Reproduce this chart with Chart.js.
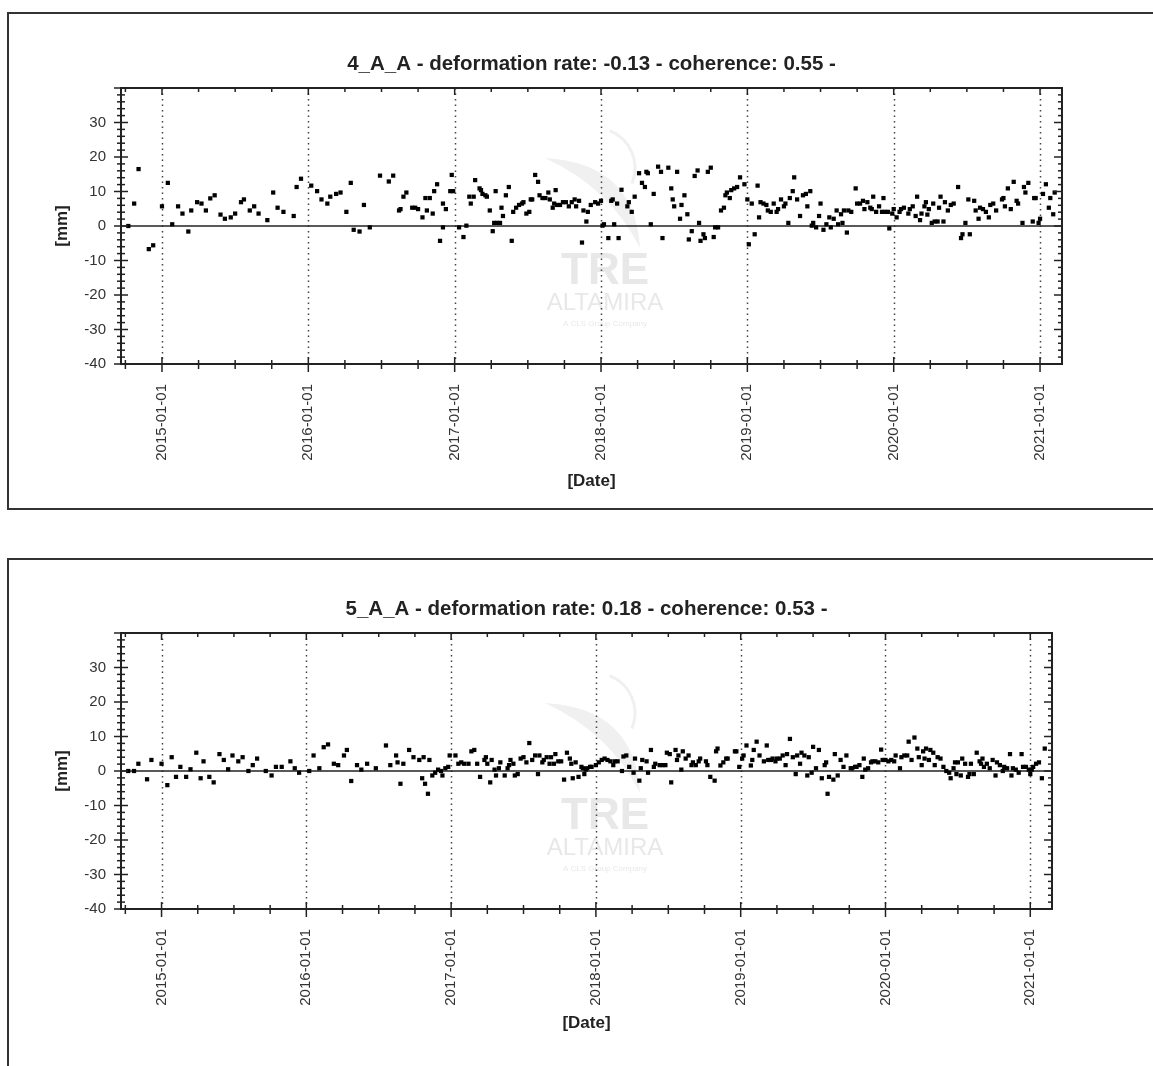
<!DOCTYPE html>
<html>
<head>
    <title>Deformation time series</title>
    <meta charset="utf-8">
    <script src="https://cdn.jsdelivr.net/npm/chart.js"></script>
    <style>
        body {
            margin: 0;
            background: #fff;
            overflow: hidden;
            font-family: "Liberation Sans", Arial, sans-serif;
        }
        .box {
            position: absolute;
            left: 7px;
            width: 1200px;
            border: 2px solid #333;
            border-right: none;
        }
        #box4 { top: 12px; height: 494px; }
        #box5 { top: 558px; height: 520px; border-bottom: none; }
        canvas { display: block; }
    </style>
</head>
<body>
<div class="box" id="box4"><canvas id="chart4" width="1144" height="494"></canvas></div>
<div class="box" id="box5"><canvas id="chart5" width="1144" height="506"></canvas></div>
<script>
    // axis ranges and tick labels
    const xMin = 2014.72;
    const xMax = 2021.15;
    const yearTicks = [2015, 2016, 2017, 2018, 2019, 2020, 2021];
    const mmTicks = [-40, -30, -20, -10, 0, 10, 20, 30];

    // point 4_A_A : acquisition date (decimal year) and displacement in mm
    const title4 = "4_A_A - deformation rate: -0.13 - coherence: 0.55 -";
    const dates4 = [
        2014.77, 2014.81, 2014.84, 2014.91, 2014.94, 2015.00, 2015.04, 2015.07, 2015.11, 2015.14,
        2015.18, 2015.20, 2015.24, 2015.27, 2015.30, 2015.33, 2015.36, 2015.40, 2015.43, 2015.47,
        2015.50, 2015.54, 2015.56, 2015.60, 2015.63, 2015.66, 2015.72, 2015.76, 2015.79, 2015.83,
        2015.90, 2015.92, 2015.95, 2016.02, 2016.06, 2016.09, 2016.13, 2016.15, 2016.19, 2016.22,
        2016.26, 2016.29, 2016.31, 2016.35, 2016.38, 2016.42, 2016.49, 2016.55, 2016.58, 2016.62,
        2016.63, 2016.65, 2016.67, 2016.71, 2016.73, 2016.75, 2016.78, 2016.80, 2016.81, 2016.83,
        2016.85, 2016.86, 2016.88, 2016.90, 2016.92, 2016.92, 2016.94, 2016.97, 2016.98, 2016.99,
        2017.03, 2017.06, 2017.08, 2017.10, 2017.11, 2017.13, 2017.14, 2017.17, 2017.18, 2017.19,
        2017.21, 2017.22, 2017.24, 2017.26, 2017.27, 2017.28, 2017.29, 2017.31, 2017.32, 2017.33,
        2017.35, 2017.37, 2017.39, 2017.40, 2017.42, 2017.44, 2017.46, 2017.47, 2017.49, 2017.51,
        2017.52, 2017.53, 2017.55, 2017.57, 2017.58, 2017.60, 2017.62, 2017.64, 2017.65, 2017.67,
        2017.68, 2017.69, 2017.70, 2017.72, 2017.74, 2017.76, 2017.78, 2017.80, 2017.82, 2017.83,
        2017.85, 2017.87, 2017.88, 2017.90, 2017.91, 2017.93, 2017.96, 2017.98, 2018.00, 2018.01,
        2018.02, 2018.05, 2018.07, 2018.08, 2018.09, 2018.11, 2018.12, 2018.14, 2018.18, 2018.19,
        2018.21, 2018.23, 2018.26, 2018.28, 2018.30, 2018.31, 2018.32, 2018.34, 2018.36, 2018.39,
        2018.41, 2018.42, 2018.46, 2018.48, 2018.49, 2018.50, 2018.52, 2018.54, 2018.55, 2018.57,
        2018.59, 2018.60, 2018.62, 2018.64, 2018.66, 2018.67, 2018.68, 2018.70, 2018.71, 2018.73,
        2018.75, 2018.77, 2018.78, 2018.80, 2018.82, 2018.84, 2018.85, 2018.86, 2018.88, 2018.89,
        2018.91, 2018.93, 2018.95, 2018.98, 2019.00, 2019.01, 2019.03, 2019.05, 2019.07, 2019.08,
        2019.09, 2019.11, 2019.13, 2019.14, 2019.16, 2019.18, 2019.20, 2019.21, 2019.23, 2019.25,
        2019.26, 2019.28, 2019.29, 2019.31, 2019.32, 2019.34, 2019.36, 2019.38, 2019.40, 2019.41,
        2019.43, 2019.44, 2019.45, 2019.47, 2019.49, 2019.50, 2019.52, 2019.54, 2019.56, 2019.57,
        2019.59, 2019.61, 2019.62, 2019.64, 2019.65, 2019.66, 2019.68, 2019.69, 2019.71, 2019.74,
        2019.75, 2019.77, 2019.79, 2019.80, 2019.82, 2019.84, 2019.85, 2019.86, 2019.88, 2019.90,
        2019.92, 2019.93, 2019.94, 2019.96, 2019.97, 2019.99, 2020.00, 2020.02, 2020.04, 2020.05,
        2020.07, 2020.10, 2020.11, 2020.13, 2020.15, 2020.16, 2020.18, 2020.19, 2020.21, 2020.22,
        2020.23, 2020.24, 2020.26, 2020.27, 2020.28, 2020.30, 2020.31, 2020.32, 2020.34, 2020.35,
        2020.37, 2020.39, 2020.41, 2020.44, 2020.46, 2020.47, 2020.49, 2020.51, 2020.52, 2020.55,
        2020.56, 2020.58, 2020.59, 2020.61, 2020.63, 2020.65, 2020.66, 2020.68, 2020.70, 2020.74,
        2020.75, 2020.76, 2020.78, 2020.80, 2020.82, 2020.84, 2020.85, 2020.88, 2020.89, 2020.90,
        2020.92, 2020.95, 2020.96, 2020.97, 2020.99, 2021.00, 2021.02, 2021.04, 2021.06, 2021.07,
        2021.09, 2021.10
    ];
    const values4 = [
        0, 6.5, 16.5, -6.7, -5.6, 5.7, 12.5, 0.5, 5.7, 3.6,
        -1.6, 4.5, 6.9, 6.5, 4.5, 8.0, 8.9, 3.3, 2.1, 2.5,
        3.6, 6.9, 7.7, 4.5, 5.7, 3.6, 1.7, 9.7, 5.3, 4.1,
        2.9, 11.3, 13.7, 11.7, 10.1, 7.7, 6.5, 8.5, 9.3, 9.7,
        4.1, 12.5, -1.1, -1.6, 6.1, -0.4, 14.6, 12.9, 14.6, 4.5,
        4.9, 8.5, 9.7, 5.3, 5.3, 4.9, 2.5, 8.1, 4.5, 8.1,
        3.6, 10.1, 12.1, -4.3, -0.4, 6.5, 4.9, 10.1, 14.8, 10.1,
        -0.4, -3.2, 0.1, 8.5, 6.5, 8.5, 13.3, 10.9, 10.4, 9.3,
        8.9, 8.5, 4.5, -1.5, 0.9, 10.1, 0.9, 0.9, 5.3, 2.9,
        8.9, 11.3, -4.3, 4.1, 5.3, 6.1, 6.5, 6.9, 3.6, 4.1,
        7.7, 7.7, 14.8, 12.8, 8.9, 8.1, 8.1, 9.7, 7.7, 5.3,
        6.5, 10.4, 6.1, 6.1, 6.9, 6.9, 5.7, 6.9, 7.7, 5.7,
        7.3, -4.8, 4.5, 1.3, 4.1, 6.1, 6.9, 6.5, 7.3, 0.1,
        0.5, -3.5, 7.3, 7.7, 0.5, 6.5, -3.5, 10.5, 5.7, 6.9,
        4.1, 8.5, 15.3, 12.5, 11.3, 15.7, 15.3, 0.5, 9.3, 17.2,
        15.7, -3.5, 16.9, 10.9, 7.7, 5.7, 15.7, 2.1, 6.1, 8.9,
        3.4, -3.9, -1.5, 14.5, 16.1, 0.9, -4.3, -2.4, -3.5, 15.7,
        16.9, -3.2, -0.4, -0.4, 4.5, 5.3, 8.9, 9.7, 8.1, 10.4,
        10.9, 11.3, 14.1, 12.1, 7.7, -5.3, 6.5, -2.4, 11.7, 2.5,
        6.9, 6.5, 6.1, 4.5, 4.1, 6.5, 4.1, 4.9, 7.7, 5.7,
        6.5, 0.9, 8.1, 10.1, 14.1, 7.7, 2.9, 8.9, 9.3, 5.7,
        10.1, 0.1, 0.9, -0.4, 2.9, 6.5, -1.1, 0.5, 2.5, -0.4,
        2.1, 4.5, 0.5, 3.4, 0.9, 4.5, -1.9, 4.5, 4.1, 10.9,
        6.5, 6.5, 7.3, 4.9, 6.9, 5.3, 4.9, 8.5, 4.1, 5.7,
        4.1, 8.1, 4.1, 4.1, -0.7, 3.6, 4.9, 2.5, 4.1, 4.9,
        5.3, 3.6, 4.9, 5.7, 2.9, 8.5, 1.7, 3.6, 5.7, 6.9,
        3.3, 4.9, 0.9, 6.5, 1.3, 1.3, 5.3, 8.5, 1.3, 6.9,
        4.5, 6.1, 6.5, 11.3, -3.5, -2.4, 0.9, 7.7, -2.4, 7.3,
        4.5, 2.1, 5.3, 4.9, 4.1, 2.5, 6.1, 6.5, 4.5, 7.7,
        8.1, 5.7, 10.9, 4.9, 12.8, 7.3, 6.5, 0.9, 11.3, 9.7,
        12.5, 1.3, 8.1, 8.1, 0.9, 2.1, 9.3, 12.1, 5.3, 8.1,
        3.4, 9.7
    ];

    // point 5_A_A
    const title5 = "5_A_A - deformation rate: 0.18 - coherence: 0.53 -";
    const dates5 = [
        2014.77, 2014.81, 2014.84, 2014.90, 2014.93, 2015.00, 2015.04, 2015.07, 2015.10, 2015.13,
        2015.17, 2015.20, 2015.24, 2015.27, 2015.29, 2015.33, 2015.36, 2015.40, 2015.43, 2015.46,
        2015.49, 2015.53, 2015.56, 2015.60, 2015.63, 2015.66, 2015.72, 2015.76, 2015.79, 2015.83,
        2015.89, 2015.92, 2015.95, 2016.02, 2016.05, 2016.09, 2016.12, 2016.15, 2016.19, 2016.22,
        2016.26, 2016.28, 2016.31, 2016.35, 2016.38, 2016.42, 2016.48, 2016.55, 2016.58, 2016.62,
        2016.63, 2016.65, 2016.67, 2016.71, 2016.74, 2016.78, 2016.80, 2016.81, 2016.82, 2016.84,
        2016.85, 2016.87, 2016.89, 2016.91, 2016.93, 2016.94, 2016.96, 2016.98, 2016.99, 2017.03,
        2017.05, 2017.07, 2017.09, 2017.12, 2017.14, 2017.16, 2017.18, 2017.20, 2017.23, 2017.24,
        2017.25, 2017.27, 2017.28, 2017.30, 2017.31, 2017.33, 2017.34, 2017.37, 2017.39, 2017.40,
        2017.41, 2017.43, 2017.44, 2017.46, 2017.48, 2017.50, 2017.52, 2017.54, 2017.56, 2017.58,
        2017.60, 2017.61, 2017.63, 2017.64, 2017.66, 2017.68, 2017.69, 2017.71, 2017.72, 2017.74,
        2017.76, 2017.78, 2017.80, 2017.82, 2017.83, 2017.84, 2017.86, 2017.88, 2017.90, 2017.91,
        2017.92, 2017.93, 2017.94, 2017.96, 2017.97, 2018.00, 2018.02, 2018.04, 2018.06, 2018.08,
        2018.10, 2018.12, 2018.13, 2018.15, 2018.18, 2018.19, 2018.21, 2018.23, 2018.26, 2018.27,
        2018.30, 2018.31, 2018.32, 2018.35, 2018.36, 2018.38, 2018.40, 2018.41, 2018.44, 2018.46,
        2018.48, 2018.49, 2018.51, 2018.52, 2018.55, 2018.56, 2018.57, 2018.59, 2018.60, 2018.62,
        2018.64, 2018.66, 2018.67, 2018.69, 2018.71, 2018.72, 2018.76, 2018.77, 2018.79, 2018.82,
        2018.83, 2018.84, 2018.86, 2018.88, 2018.90, 2018.91, 2018.96, 2018.97, 2018.99, 2019.01,
        2019.02, 2019.04, 2019.07, 2019.08, 2019.09, 2019.11, 2019.13, 2019.16, 2019.18, 2019.19,
        2019.21, 2019.22, 2019.24, 2019.25, 2019.27, 2019.29, 2019.31, 2019.32, 2019.34, 2019.36,
        2019.38, 2019.39, 2019.41, 2019.42, 2019.44, 2019.46, 2019.47, 2019.49, 2019.50, 2019.52,
        2019.54, 2019.56, 2019.58, 2019.59, 2019.60, 2019.61, 2019.64, 2019.65, 2019.67, 2019.69,
        2019.71, 2019.73, 2019.76, 2019.77, 2019.79, 2019.80, 2019.82, 2019.84, 2019.85, 2019.86,
        2019.88, 2019.90, 2019.91, 2019.93, 2019.95, 2019.97, 2019.98, 2020.00, 2020.02, 2020.04,
        2020.06, 2020.07, 2020.10, 2020.11, 2020.13, 2020.15, 2020.16, 2020.18, 2020.20, 2020.22,
        2020.23, 2020.25, 2020.26, 2020.27, 2020.28, 2020.30, 2020.31, 2020.33, 2020.34, 2020.36,
        2020.38, 2020.40, 2020.42, 2020.44, 2020.45, 2020.47, 2020.48, 2020.49, 2020.50, 2020.52,
        2020.53, 2020.55, 2020.57, 2020.58, 2020.59, 2020.61, 2020.63, 2020.65, 2020.66, 2020.67,
        2020.68, 2020.70, 2020.72, 2020.74, 2020.76, 2020.77, 2020.79, 2020.81, 2020.82, 2020.84,
        2020.86, 2020.87, 2020.88, 2020.90, 2020.92, 2020.94, 2020.95, 2020.97, 2020.99, 2021.00,
        2021.01, 2021.02, 2021.04, 2021.06, 2021.08, 2021.10
    ];
    const values5 = [
        0, 0, 2.1, -2.4, 3.2, 2.1, -4.1, 4.0, -1.7, 1.2,
        -1.7, 0.5, 5.3, -2.1, 2.8, -1.7, -3.3, 4.9, 3.2, 0.5,
        4.5, 2.8, 4.0, 0, 1.7, 3.6, 0, -1.3, 1.2, 1.2,
        2.8, 0.8, -0.5, 0, 4.5, 0.8, 6.9, 7.7, 2.1, 1.7,
        4.5, 6.1, -2.9, 1.7, 0.4, 2.1, 0.8, 7.4, 1.7, 4.5,
        2.5, -3.7, 2.1, 6.1, 4.0, 3.2, -2.1, 4.0, -3.7, -6.6,
        3.2, -1.3, -0.5, 0.4, 0, -1.3, 0.8, 1.2, 4.5, 4.5,
        2.1, 2.5, 2.1, 2.1, 5.7, 6.1, 2.1, -1.7, 3.2, 4.0,
        2.1, -3.3, 3.2, 0.4, -1.3, 0.8, 2.5, -1.3, 0.8, 1.7,
        3.2, 2.1, -1.3, -0.9, 3.6, 4.0, 2.5, 8.1, 3.2, 4.5,
        -0.9, 4.5, 2.5, 3.2, 4.0, 2.1, 4.0, 2.1, 4.9, 2.8,
        2.8, -2.5, 5.3, 3.6, 2.1, -2.1, 2.5, -1.7, 1.2, 0.8,
        -0.9, 0.4, 0.8, 1.2, 1.2, 1.7, 2.5, 3.2, 3.6, 3.2,
        2.8, 1.7, 2.8, 2.8, 0, 4.2, 4.5, 1.2, -0.5, 3.6,
        -2.8, 0.8, 3.2, 2.8, -0.5, 6.1, 1.2, 2.1, 1.7, 1.7,
        1.7, 5.3, 4.9, -3.3, 6.1, 3.2, 4.5, 0.4, 5.7, 3.6,
        4.5, 1.7, 2.5, 1.7, 2.8, 3.6, 2.8, 1.7, -1.7, -2.8,
        5.7, 6.5, 1.6, 2.5, 3.6, 3.6, 5.7, 5.7, 1.2, 3.6,
        4.5, 7.4, 1.6, 3.2, 6.1, 8.5, 4.5, 2.8, 7.4, 3.2,
        3.2, 3.6, 2.8, 3.6, 3.6, 4.5, 1.7, 4.9, 9.3, 4.0,
        -0.9, 4.5, 2.1, 5.3, 4.5, -1.3, 4.0, -0.5, 7.0, 0.8,
        6.1, -2.1, 1.7, 2.5, -6.6, -1.7, -2.5, 4.9, -1.3, 3.2,
        1.2, 4.5, 0.8, 0.8, 1.2, 1.2, 1.7, -1.7, 3.6, 0.4,
        0.8, 2.5, 2.8, 2.8, 2.5, 6.2, 3.2, 3.2, 2.8, 3.2,
        2.8, 4.5, 0.8, 4.0, 4.5, 4.5, 8.5, 3.2, 9.7, 6.5,
        4.0, 1.7, 5.7, 3.6, 6.5, 3.2, 6.1, 5.3, 1.7, 4.0,
        3.6, 1.2, 0, -0.5, -2.1, 0.8, 2.5, -0.9, 2.5, -1.3,
        3.6, 2.1, -1.7, -0.9, 2.1, -0.9, 5.3, 2.8, 2.1, 3.6,
        1.2, 2.1, 0.8, 3.2, -1.3, 2.5, 1.7, 0, 1.2, 0.8,
        4.9, -1.3, 0.8, 0.4, -0.5, 4.9, 1.2, 1.2, 0.4, -0.9,
        0.4, 1.2, 2.1, 2.5, -2.1, 6.5
    ];

    const ink = "#222";
    const fontFamily = "'Liberation Sans', Arial, sans-serif";

    // frame, crossing tick marks, dotted year lines, zero line, watermark
    const framePlugin = {
        id: "frame",
        beforeDatasetsDraw(chart) {
            const { ctx, chartArea: a, scales: { x, y } } = chart;
            ctx.save();
            // watermark
            const wx = a.left + 484;
            const wy = a.top;
            ctx.fillStyle = "#f0f0f0";
            ctx.beginPath();
            ctx.moveTo(wx - 60, wy + 70);
            ctx.quadraticCurveTo(wx + 30, wy + 75, wx + 35, wy + 160);
            ctx.quadraticCurveTo(wx + 5, wy + 100, wx - 60, wy + 70);
            ctx.fill();
            ctx.strokeStyle = "#f0f0f0";
            ctx.lineWidth = 3;
            ctx.beginPath();
            ctx.arc(wx - 10, wy + 80, 40, -1.2, 0.4);
            ctx.stroke();
            ctx.textAlign = "center";
            ctx.fillStyle = "#e8e8e8";
            ctx.font = "bold 44px " + fontFamily;
            ctx.fillText("TRE", wx, a.top + 196);
            ctx.font = "24px " + fontFamily;
            ctx.fillText("ALTAMIRA", wx, a.top + 222);
            ctx.font = "8px " + fontFamily;
            ctx.fillText("A CLS Group Company", wx, a.top + 238);
            // dotted year lines
            ctx.strokeStyle = "#444";
            ctx.lineWidth = 1.5;
            ctx.setLineDash([1.5, 4]);
            yearTicks.forEach(v => {
                const px = Math.round(x.getPixelForValue(v)) + 0.5;
                ctx.beginPath();
                ctx.moveTo(px, a.top);
                ctx.lineTo(px, a.bottom);
                ctx.stroke();
            });
            ctx.setLineDash([]);
            // zero line
            const y0 = y.getPixelForValue(0);
            ctx.strokeStyle = ink;
            ctx.lineWidth = 1.5;
            ctx.beginPath();
            ctx.moveTo(a.left, y0);
            ctx.lineTo(a.right, y0);
            ctx.stroke();
            ctx.restore();
        },
        afterDatasetsDraw(chart) {
            const { ctx, chartArea: a, scales: { x, y } } = chart;
            ctx.save();
            ctx.strokeStyle = ink;
            ctx.lineWidth = 2;
            ctx.strokeRect(a.left, a.top, a.right - a.left, a.bottom - a.top);
            ctx.lineWidth = 1.5;
            const seg = (x1, y1, x2, y2) => {
                ctx.beginPath();
                ctx.moveTo(x1, y1);
                ctx.lineTo(x2, y2);
                ctx.stroke();
            };
            // x ticks: years (major) and quarters (minor)
            for (let q = Math.ceil(x.min * 4); q <= Math.floor(x.max * 4); q++) {
                const px = x.getPixelForValue(q / 4);
                const major = q % 4 === 0;
                seg(px, a.bottom - (major ? 7 : 4), px, a.bottom + (major ? 8 : 5));
                seg(px, a.top, px, a.top + (major ? 7 : 4));
            }
            // y ticks: every 10 (major) and every 2 (minor)
            for (let v = y.min; v <= y.max; v += 2) {
                const py = y.getPixelForValue(v);
                const major = v % 10 === 0;
                seg(a.left - (major ? 7 : 4), py, a.left + (major ? 7 : 4), py);
                seg(a.right - (major ? 8 : 4), py, a.right, py);
            }
            ctx.restore();
        }
    };

    function makeChart(id, title, dates, values, geom) {
        const points = dates.map((d, i) => ({ x: d, y: values[i] }));
        return new Chart(document.getElementById(id), {
            type: "scatter",
            data: {
                datasets: [{
                    data: points,
                    pointStyle: "rect",
                    pointRadius: 3,
                    pointBorderWidth: 0,
                    backgroundColor: "#000",
                    borderColor: "#000"
                }]
            },
            options: {
                responsive: false,
                animation: false,
                events: [],
                layout: { padding: { left: 0, top: 0, right: geom.right, bottom: 0 } },
                plugins: {
                    legend: { display: false },
                    tooltip: { enabled: false },
                    title: {
                        display: true,
                        fullSize: false,
                        text: title,
                        color: ink,
                        font: { family: fontFamily, size: 20.5, weight: "bold" },
                        padding: { top: geom.titleTop, bottom: geom.titleBottom }
                    }
                },
                scales: {
                    x: {
                        type: "linear",
                        min: xMin,
                        max: xMax,
                        grid: { display: false, drawTicks: false },
                        border: { display: false },
                        afterBuildTicks: s => { s.ticks = yearTicks.map(v => ({ value: v })); },
                        afterFit: s => { s.height = geom.xHeight; },
                        ticks: {
                            autoSkip: false,
                            minRotation: 90,
                            maxRotation: 90,
                            padding: 20,
                            color: "#333",
                            font: { family: fontFamily, size: 15 },
                            callback: v => v + "-01-01"
                        },
                        title: {
                            display: true,
                            text: "[Date]",
                            color: ink,
                            font: { family: fontFamily, size: 17, weight: "bold" },
                            padding: { top: 0, bottom: geom.dateBottom }
                        }
                    },
                    y: {
                        min: -40,
                        max: 40,
                        grid: { display: false, drawTicks: false },
                        border: { display: false },
                        afterBuildTicks: s => { s.ticks = mmTicks.map(v => ({ value: v })); },
                        afterFit: s => { s.width = 112; },
                        ticks: {
                            padding: 15,
                            color: "#333",
                            font: { family: fontFamily, size: 15 }
                        },
                        title: {
                            display: true,
                            text: "[mm]",
                            color: ink,
                            font: { family: fontFamily, size: 17, weight: "bold" },
                            padding: { top: 42.8, bottom: 0 }
                        }
                    }
                }
            },
            plugins: [framePlugin]
        });
    }

    makeChart("chart4", title4, dates4, values4,
        { right: 91, titleTop: 37.7, titleBottom: 11.7, xHeight: 144, dateBottom: 16.8 });
    makeChart("chart5", title5, dates5, values5,
        { right: 101, titleTop: 36.7, titleBottom: 11.7, xHeight: 157, dateBottom: 32.8 });
</script>
</body>
</html>
